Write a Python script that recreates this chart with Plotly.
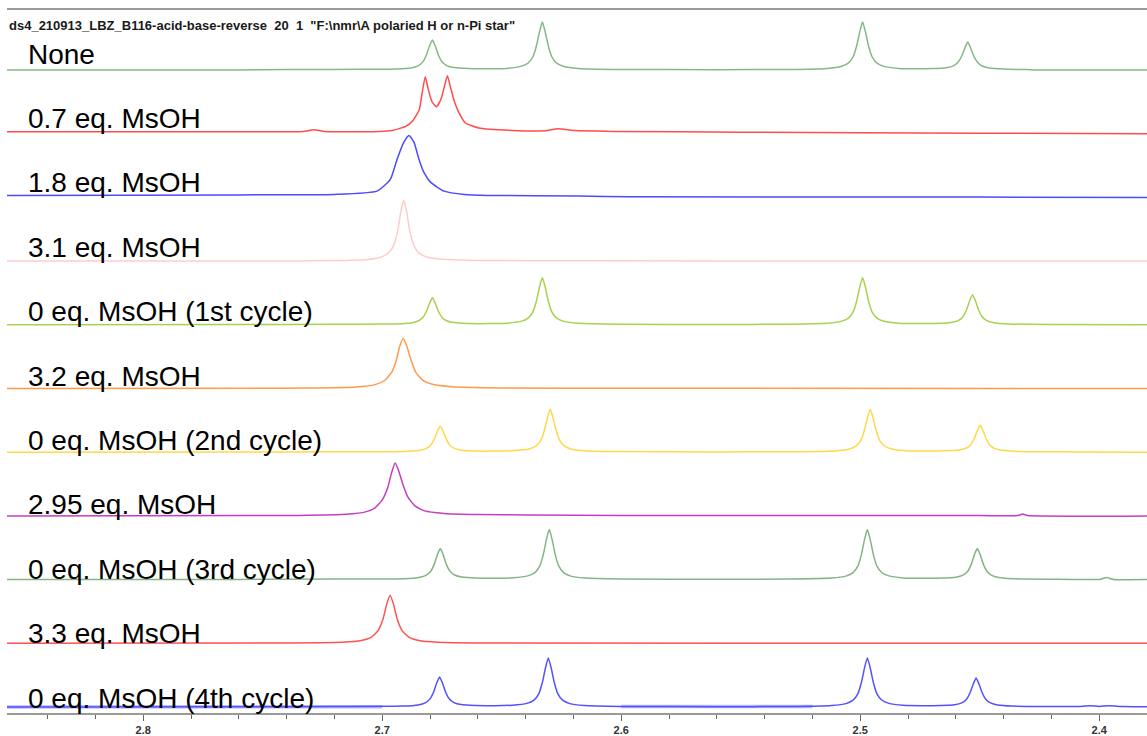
import plotly.graph_objects as go

# ---------------- data (ppm, intensity above own baseline) ----------------
LABELS = ["None", "0.7 eq. MsOH", "1.8 eq. MsOH", "3.1 eq. MsOH",
          "0 eq. MsOH (1st cycle)", "3.2 eq. MsOH", "0 eq. MsOH (2nd cycle)",
          "2.95 eq. MsOH", "0 eq. MsOH (3rd cycle)", "3.3 eq. MsOH",
          "0 eq. MsOH (4th cycle)"]
COLORS = ["#86b886", "#ff4c4c", "#4c4cff", "#ffcccc", "#a9d04e", "#ff9a4c",
          "#ffd84a", "#c23fc2", "#84b584", "#ff5252", "#5252ff"]
OFFSETS = [643, 579.3, 515.6, 451.9, 388.2, 324.5, 260.8, 197.1, 133.4, 69.7, 6]

TITLE = ('ds4_210913_LBZ_B116-acid-base-reverse\u00a0\u00a020\u00a0\u00a01\u00a0\u00a0'
         '"F:\\nmr\\A polaried H or n-Pi star"')

TICK_VALS = [2.8, 2.7, 2.6, 2.5, 2.4]
TICK_TEXT = ["2.8", "2.7", "2.6", "2.5", "2.4"]
X_RANGE = [2.857, 2.380]

NONE = [(2.857,0),(2.760,0),(2.740,0.5),(2.720,0.5),(2.700,0.8),(2.694,1.0),(2.688,2.1),(2.685,4.2),
        (2.683,8.1),(2.6815,15),(2.6802,24),(2.679,30),(2.6778,24),(2.6765,15),(2.675,8.2),(2.673,4.4),
        (2.670,2.4),(2.664,1.4),(2.656,1.2),(2.648,1.6),(2.642,3.6),(2.639,6.9),(2.637,13),(2.6355,24),
        (2.6342,38),(2.633,48),(2.6318,38),(2.6305,24),(2.629,13),(2.627,6.8),(2.624,3.5),(2.618,1.6),
        (2.600,0.6),(2.560,0.3),(2.530,0.6),(2.514,1.6),(2.508,3.5),(2.505,6.8),(2.503,13),(2.5015,24),
        (2.5002,38),(2.499,48),(2.4978,38),(2.4965,24),(2.495,13),(2.493,6.9),(2.490,3.6),(2.484,1.6),
        (2.476,1.2),(2.470,1.4),(2.464,2.3),(2.461,4.2),(2.459,8.0),(2.4575,14),(2.4562,22),(2.455,28),
        (2.4538,22),(2.4525,14),(2.451,8.0),(2.449,4.0),(2.446,2.0),(2.440,0.9),(2.430,0.4),(2.427,0),
        (2.400,0),(2.380,0)]

EQ07 = [(2.857,2),(2.740,2),(2.733,2.2),(2.7285,4),(2.724,2.2),(2.7015,2.3),(2.6958,3.3),(2.6902,7.3),
        (2.6872,13),(2.6845,24),(2.6832,42),(2.682,57),(2.6808,45),(2.6792,32),(2.6773,27),(2.6755,34),
        (2.6739,48),(2.6727,58),(2.6715,47),(2.6699,33),(2.6681,22),(2.6652,10.7),(2.6596,5.7),
        (2.6455,3.3),(2.632,3),(2.6263,5),(2.621,3.5),(2.6178,3),(2.6037,2.3),(2.550,1.5),(2.450,0.5),
        (2.380,0)]

EQ18 = [(2.857,2),(2.760,2.5),(2.720,3),(2.7022,6.3),(2.6966,18),(2.6938,38),(2.691,55),(2.6888,62),
        (2.6867,55),(2.6846,38),(2.6825,24.7),(2.6797,15),(2.6741,6.3),(2.6656,3),(2.6558,2),
        (2.6178,1.3),(2.5967,0.7),(2.450,0.3),(2.380,0)]

EQ31 = [(2.857,0),(2.750,0),(2.721,0.5),(2.706,1.7),(2.700,4.4),(2.697,9),(2.695,17),(2.6935,30.5),
        (2.6922,49.6),(2.691,61),(2.6898,49.6),(2.6885,30.5),(2.687,17),(2.685,9),(2.682,4.6),
        (2.676,2),(2.661,0.7),(2.620,0.3),(2.450,0),(2.380,0)]

CYC1 = [(2.857,0),(2.760,0.2),(2.720,0.5),(2.700,0.7),(2.694,0.9),(2.688,1.9),(2.685,3.8),(2.683,7.3),
        (2.6815,13.5),(2.6802,21.6),(2.679,27),(2.6778,21.6),(2.6765,13.5),(2.675,7.4),(2.673,4.0),
        (2.670,2.2),(2.664,1.3),(2.656,1.2),(2.648,1.6),(2.642,3.4),(2.639,6.7),(2.637,12.7),
        (2.6355,23.5),(2.6342,37.6),(2.633,47),(2.6318,37.6),(2.6305,23.5),(2.629,12.7),(2.627,6.6),
        (2.624,3.4),(2.618,1.5),(2.600,0.6),(2.560,0.3),(2.530,0.6),(2.514,1.5),(2.508,3.4),(2.505,6.6),
        (2.503,12.7),(2.5015,23.5),(2.5002,37.6),(2.499,47),(2.4978,37.6),(2.4965,23.5),(2.495,12.7),
        (2.493,6.7),(2.490,3.5),(2.484,1.6),(2.476,1.2),(2.468,1.4),(2.462,2.3),(2.459,4.2),(2.457,8.1),
        (2.4555,15),(2.4542,24),(2.453,30),(2.4518,24),(2.4505,15),(2.449,8.1),(2.447,4.2),(2.444,2.1),
        (2.438,0.9),(2.420,0.3),(2.380,0)]

EQ32 = [(2.857,0),(2.750,0.2),(2.731,0.4),(2.711,1.5),(2.703,3.9),(2.699,8),(2.696,16.4),(2.694,29),
        (2.6927,42),(2.6912,50),(2.6897,42),(2.688,29),(2.686,16.4),(2.683,8.2),(2.679,4.2),(2.671,1.8),
        (2.651,0.6),(2.600,0.3),(2.380,0)]

CYC2 = [(2.857,0),(2.760,0.2),(2.720,0.4),(2.6907,0.8),(2.6847,1.8),(2.6817,3.6),(2.6797,7),
        (2.6782,13),(2.6769,21),(2.6757,26),(2.6745,21),(2.6732,13),(2.6717,7),(2.6697,3.8),
        (2.6667,2),(2.6607,1.2),(2.6527,1.1),(2.6447,1.6),(2.6387,3.2),(2.6357,6),(2.6337,11.6),
        (2.6322,21.5),(2.6309,34),(2.6297,43),(2.6285,34),(2.6272,21.5),(2.6257,11.6),(2.6237,6),
        (2.6207,3),(2.6147,1.3),(2.600,0.6),(2.560,0.3),(2.530,0.5),(2.5108,1.3),(2.5048,3),(2.5018,6),
        (2.4998,11.6),(2.4983,21.5),(2.497,34),(2.4958,43),(2.4946,34),(2.4933,21.5),(2.4918,11.6),
        (2.4898,6.2),(2.4868,3.2),(2.4808,1.5),(2.4728,1.1),(2.4648,1.4),(2.4588,2.2),(2.4558,3.9),
        (2.4538,7.3),(2.4523,13.5),(2.451,21.6),(2.4498,27),(2.4486,21.6),(2.4473,13.5),(2.4458,7.3),
        (2.4438,3.8),(2.4408,1.9),(2.4348,0.8),(2.410,0.3),(2.380,0)]

EQ295 = [(2.857,0),(2.750,0.3),(2.735,0.5),(2.715,1.6),(2.707,4),(2.703,8),(2.700,16),(2.6976,29),
         (2.6961,43),(2.6946,53),(2.6931,45),(2.6914,32),(2.6893,19),(2.6863,10),(2.6823,5),(2.674,2.5),
         (2.660,1.4),(2.640,1),(2.600,0.5),(2.450,0.3),(2.434,0.3),(2.432,1.8),(2.430,0.3),(2.380,0)]

CYC3 = [(2.857,0),(2.760,0.2),(2.720,0.5),(2.6907,0.9),(2.6847,2.2),(2.6817,4.3),(2.6797,8.4),
        (2.6782,15.5),(2.6769,25),(2.6757,31),(2.6745,25),(2.6732,15.5),(2.6717,8.5),(2.6697,4.6),
        (2.6667,2.5),(2.6607,1.5),(2.6531,1.3),(2.6451,1.8),(2.6391,3.7),(2.6361,7),(2.6341,13.5),
        (2.6326,25),(2.6313,40),(2.6301,50),(2.6289,40),(2.6276,25),(2.6261,13.5),(2.6241,7),
        (2.6211,3.5),(2.6151,1.5),(2.600,0.6),(2.560,0.3),(2.530,0.5),(2.512,1.5),(2.506,3.5),
        (2.503,7),(2.501,13.5),(2.4995,25),(2.4982,40),(2.497,50),(2.4958,40),(2.4945,25),(2.493,13.5),
        (2.491,7.1),(2.488,3.7),(2.482,1.7),(2.474,1.3),(2.466,1.5),(2.460,2.4),(2.457,4.4),(2.455,8.4),
        (2.4535,15.5),(2.4522,25),(2.451,31),(2.4498,25),(2.4485,15.5),(2.447,8.4),(2.445,4.3),
        (2.442,2.2),(2.436,0.9),(2.420,0.3),(2.400,0.2),(2.397,2),(2.394,0.2),(2.380,0)]

EQ33 = [(2.857,0),(2.7467,0.3),(2.7167,1.1),(2.7087,2.8),(2.7047,5.9),(2.7017,12.7),(2.6997,24),
        (2.6982,38.4),(2.6967,48),(2.6952,38.4),(2.6937,24),(2.6917,12.7),(2.6887,5.9),(2.6847,2.8),
        (2.6767,1.1),(2.6567,0.3),(2.380,0)]

CYC4 = [(2.857,0),(2.760,0.2),(2.720,0.5),(2.691,0.9),(2.685,2.1),(2.682,4.2),(2.680,8.1),(2.6785,15),
        (2.6772,24),(2.676,30),(2.6748,24),(2.6735,15),(2.672,8.2),(2.670,4.4),(2.667,2.4),(2.661,1.4),
        (2.653,1.3),(2.6455,1.8),(2.6395,3.6),(2.6365,6.9),(2.6345,13.2),(2.633,24.5),(2.6317,39),
        (2.6305,49),(2.6293,39),(2.628,24.5),(2.6265,13.2),(2.6245,6.9),(2.6215,3.4),(2.6155,1.5),
        (2.600,0.6),(2.560,0.3),(2.530,0.5),(2.512,1.5),(2.506,3.4),(2.503,6.9),(2.501,13.2),
        (2.4995,24.5),(2.4982,39),(2.497,49),(2.4958,39),(2.4945,24.5),(2.493,13.2),(2.491,7),
        (2.488,3.6),(2.482,1.7),(2.474,1.3),(2.4665,1.5),(2.4605,2.3),(2.4575,4.1),(2.4555,7.8),
        (2.454,14.5),(2.4527,23),(2.4515,29),(2.4503,23),(2.449,14.5),(2.4475,7.8),(2.4455,4.1),
        (2.4425,2),(2.4365,0.9),(2.410,0.5),(2.404,1.2),(2.400,0.6),(2.396,1.3),(2.390,0.5),(2.380,0.3)]

# light, thicker under-trace seen along parts of the 4th-cycle baseline
CYC4_BAND = [[(2.857,0),(2.700,0.3)], [(2.600,0.6),(2.520,0.5)]]

SPECTRA = [NONE, EQ07, EQ18, EQ31, CYC1, EQ32, CYC2, EQ295, CYC3, EQ33, CYC4]

# ---------------- figure ----------------
W, H = 1147, 736
M_L, M_R, M_T, M_B = 7, 0, 10, 23
PLOT_W = W - M_L - M_R
PLOT_H = H - M_T - M_B

fig = go.Figure()
for seg in CYC4_BAND:
    fig.add_trace(go.Scatter(x=[p[0] for p in seg], y=[p[1] + OFFSETS[-1] for p in seg], mode="lines",
                             line=dict(color="#b8b8ff", width=3.5), hoverinfo="skip", showlegend=False))
for spec, off, col in zip(SPECTRA, OFFSETS, COLORS):
    xs = [p[0] for p in spec]
    ys = [p[1] + off for p in spec]
    fig.add_trace(go.Scatter(x=xs, y=ys, mode="lines",
                             line=dict(color=col, width=1.5, shape="spline", smoothing=0.5),
                             hoverinfo="skip", showlegend=False))

ann = []
for i, (lab, off) in enumerate(zip(LABELS, OFFSETS)):
    ann.append(dict(text=lab, xref="paper", x=19 / PLOT_W, xanchor="left",
                    yref="y", y=off + 16 - 0.7 * i, yanchor="middle", showarrow=False,
                    font=dict(family="Liberation Sans, Arial, sans-serif", size=28, color="#000")))
ann.append(dict(text=TITLE, xref="paper", x=0, xanchor="left", yref="paper",
                y=1 - 15 / PLOT_H, yanchor="middle", showarrow=False,
                font=dict(family="Liberation Sans, Arial, sans-serif", size=13, color="#1a1a1a",
                          weight="bold")))

fig.update_layout(
    width=W, height=H, margin=dict(l=M_L, r=M_R, t=M_T, b=M_B, autoexpand=False),
    paper_bgcolor="white", plot_bgcolor="white", showlegend=False,
    annotations=ann,
    xaxis=dict(range=X_RANGE, tickvals=TICK_VALS, ticktext=TICK_TEXT, showgrid=False, zeroline=False,
               showline=True, linecolor="#9a9a9a", linewidth=2, mirror=True,
               ticks="outside", ticklen=6, tickwidth=1, tickcolor="#666",
               minor=dict(dtick=0.02, tick0=2.4, ticks="outside", ticklen=4, tickcolor="#666", tickwidth=1),
               tickfont=dict(family="Liberation Sans, Arial, sans-serif", size=11, color="#333", weight="bold"),
               fixedrange=True),
    yaxis=dict(range=[0, PLOT_H], visible=False, fixedrange=True),
)

fig.write_html("out.html", config={"displayModeBar": False},
               post_script="document.body.style.margin='0';")
